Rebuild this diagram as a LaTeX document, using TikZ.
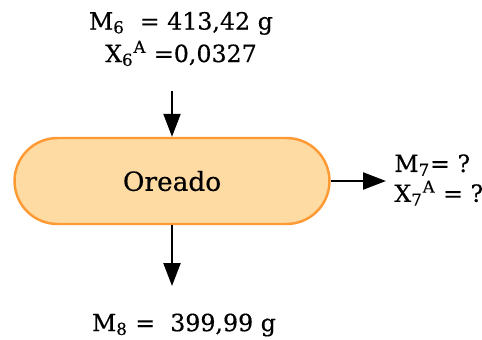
\documentclass[tikz,border=0pt]{standalone}
\usepackage{fontspec}
\setmainfont{DejaVu Serif}[FakeBold=0.4]
\usepackage{xcolor}
\usepackage{tikz}
\usetikzlibrary{arrows.meta}
\definecolor{stagefill}{HTML}{FFDBA4}
\definecolor{stagedraw}{HTML}{FF9933}

\begin{document}
\begin{tikzpicture}[
    x=0.02cm, y=-0.02cm,
    stage/.style={rectangle, rounded corners=0.86cm, draw=stagedraw, fill=stagefill, line width=1.4pt, minimum width=6.3cm, minimum height=1.72cm, font=\fontsize{15}{17}\selectfont},
    flow/.style={align=center, inner sep=0pt, font=\fontsize{13.5}{18.5}\selectfont},
    arrow/.style={-{Triangle[length=4.6mm, width=3.4mm]}, line width=1.3pt, color=black}
]
\useasboundingbox (0,0) rectangle (482,339);
\node[stage] (oreado) at (172,181) {Oreado};

\node[flow] (m6) at (181,39) {M\textsubscript{6}\ \ = 413,42 g\\X\textsubscript{6}\textsuperscript{A} =0,0327};
\node[flow, align=left, anchor=west, font=\fontsize{13.5}{17}\selectfont] (m7) at (394,180) {M\textsubscript{7}= ?\\X\textsubscript{7}\textsuperscript{A} = ?};
\node[flow] (m8) at (184,325) {M\textsubscript{8} =\ \ 399,99 g};

\coordinate (in6) at (172,91);
\coordinate (out7) at (386,181);
\coordinate (out8) at (172,286);

\draw[arrow] (in6) -- (oreado.north);
\draw[arrow] (oreado.east) -- (out7);
\draw[arrow] (oreado.south) -- (out8);
\end{tikzpicture}
\end{document}
